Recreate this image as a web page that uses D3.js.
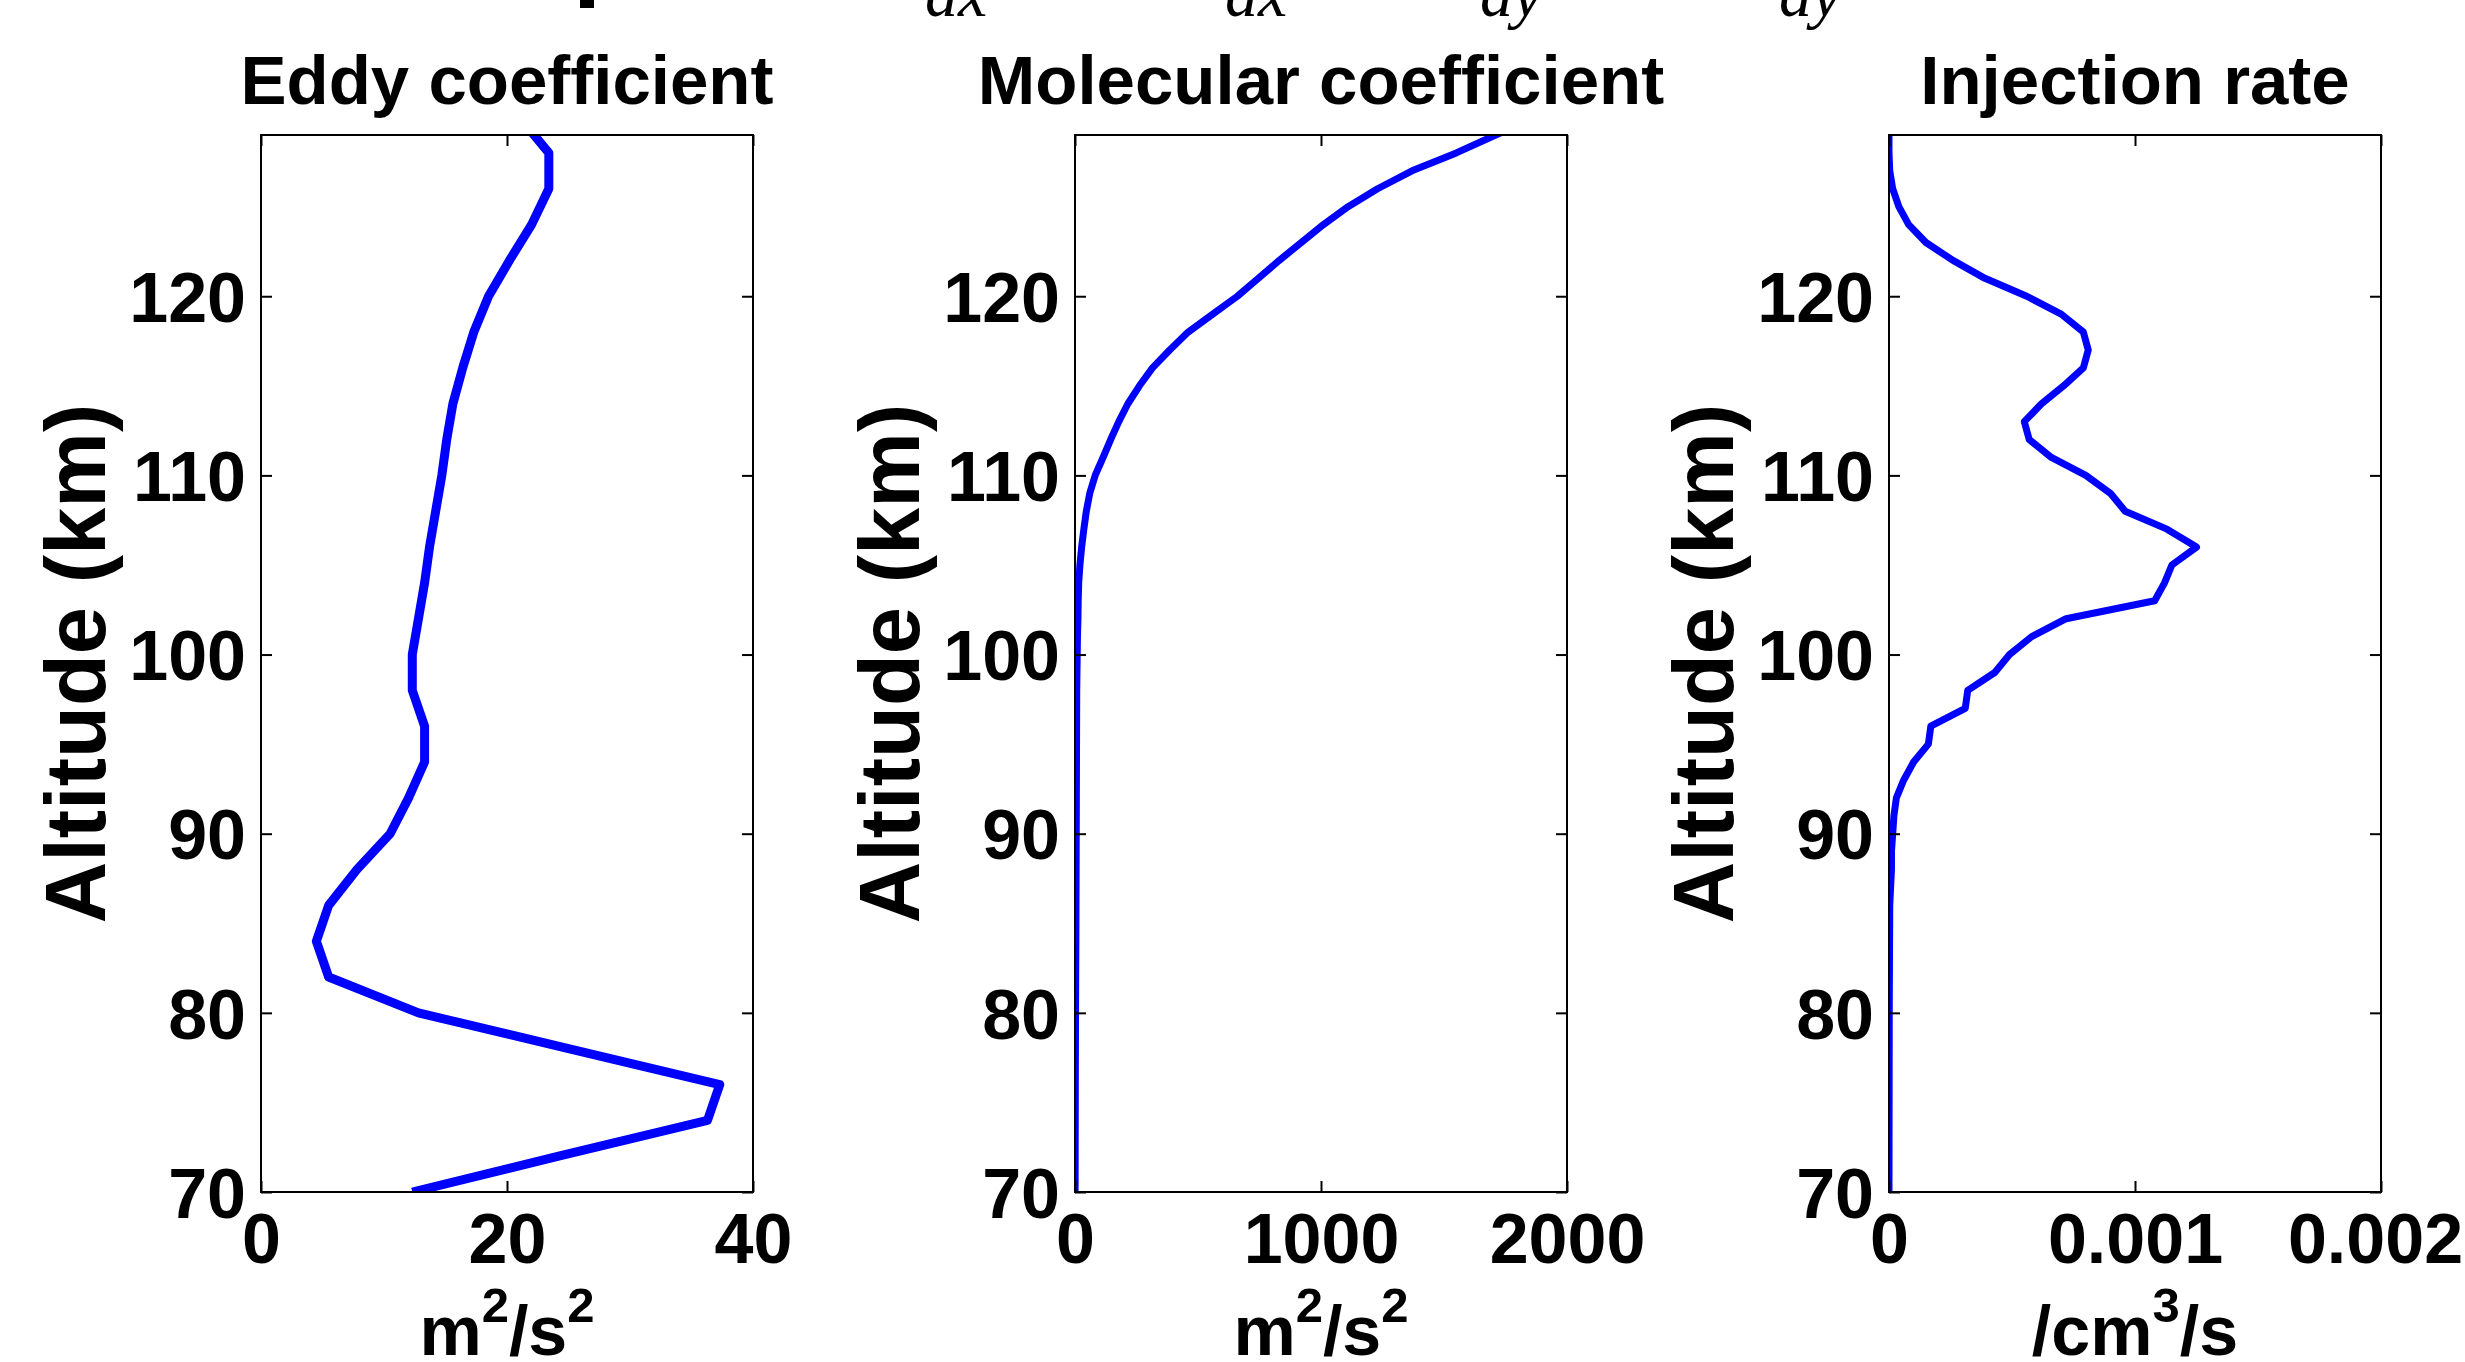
<!DOCTYPE html>
<html>
<head>
<meta charset="utf-8">
<script src="https://cdn.jsdelivr.net/npm/d3@7"></script>
<style>
  html, body { margin: 0; padding: 0; background: #fff; }
  svg { display: block; }
</style>
</head>
<body>
<div id="chart"></div>
<script>
// Altitude profiles: eddy / molecular diffusion coefficients and injection rate
const altitudeTicks = [70, 80, 90, 100, 110, 120];

const eddyAltitude = [70, 72, 74, 76, 78, 80, 82, 84, 86, 88, 90, 92, 94, 96, 98, 100,
  102, 104, 106, 108, 110, 112, 114, 116, 118, 120, 122, 124, 126, 128, 130];
const eddyValues = [12.3, 24.2, 36.3, 37.3, 25, 12.8, 5.5, 4.5, 5.5, 7.8, 10.5, 12, 13.3, 13.3, 12.3, 12.3,
  12.8, 13.3, 13.7, 14.2, 14.7, 15.1, 15.6, 16.4, 17.3, 18.5, 20.2, 22, 23.4, 23.4, 21];

const molecularAltitude = [70, 72, 74, 76, 78, 80, 82, 84, 86, 88, 90, 92, 94, 96, 98, 99, 100,
  101, 102, 103, 104, 105, 106, 107, 108, 109, 110, 111, 112, 113, 114, 115, 116, 117, 118, 119,
  120, 121, 122, 123, 124, 125, 126, 127, 128, 129, 130];
const molecularValues = [0.5, 0.7, 1, 1.3, 1.7, 2.2, 2.8, 3.5, 4, 4.5, 5, 5.5, 6, 6.5, 7, 8, 9,
  10, 12, 13, 15, 20, 27, 36, 46, 60, 82, 114, 145, 178, 215, 262, 315, 385, 460, 560,
  660, 745, 830, 920, 1010, 1110, 1230, 1370, 1550, 1710, 1880];

const injectionAltitude = [70, 80, 86, 88, 89, 90, 91, 92, 93, 94, 95, 96, 97, 98, 99, 100,
  101, 102, 103, 104, 105, 106, 107, 108, 109, 110, 111, 112, 113, 114, 115, 116, 117, 118, 119,
  120, 121, 122, 123, 124, 125, 126, 127, 128, 129];
const injectionValues = [0, 0.000001, 0.000003, 0.00001, 0.00001, 0.000015, 0.00002, 0.00003, 0.00006,
  0.0001, 0.00016, 0.00017, 0.00031, 0.00032, 0.00043, 0.00049, 0.00058, 0.00072, 0.00108, 0.00112,
  0.00115, 0.00125, 0.00113, 0.00096, 0.0009, 0.0008, 0.00066, 0.00057, 0.00055, 0.00062, 0.00071,
  0.00079, 0.00081, 0.00079, 0.0007, 0.00056, 0.00039, 0.00026, 0.00015, 0.00008, 0.00004,
  0.000015, 0.000003, 0, 0];

const eddyTicks = [0, 20, 40];
const molecularTicks = [0, 1000, 2000];
const injectionTicks = [0, 0.001, 0.002];

const panelTitles = ['Eddy coefficient', 'Molecular coefficient', 'Injection rate'];
// unit label pieces: [text, isSuperscript]
const unitLabels = [
  [['m', false], ['2', true], ['/s', false], ['2', true]],
  [['m', false], ['2', true], ['/s', false], ['2', true]],
  [['/cm', false], ['3', true], ['/s', false]]
];
const equationPieces = ['dx', 'dx', 'dy', 'dy'];

(function () {
  'use strict';

  const W = 2465, H = 1362;
  const PLOT_LEFT = [261, 1075, 1889];
  const PLOT_W = 492;
  const PLOT_TOP = 135, PLOT_BOTTOM = 1192;
  const TICK = 11;
  const FONT = '"Liberation Sans", Arial, Helvetica, sans-serif';
  const BLUE = '#0000ff';

  const panels = [
    { alt: eddyAltitude, val: eddyValues, domain: [0, 40], ticks: eddyTicks, lw: 9 },
    { alt: molecularAltitude, val: molecularValues, domain: [0, 2000], ticks: molecularTicks, lw: 7 },
    { alt: injectionAltitude, val: injectionValues, domain: [0, 0.002], ticks: injectionTicks, lw: 7 }
  ];

  const svg = d3.select('#chart').append('svg')
    .attr('width', W)
    .attr('height', H)
    .attr('viewBox', [0, 0, W, H]);

  svg.append('rect').attr('width', W).attr('height', H).attr('fill', '#fff');

  const y = d3.scaleLinear().domain([70, 129]).range([PLOT_BOTTOM, PLOT_TOP]);

  // cut-off equation fragment at the very top (only the lower part is in frame)
  const eqX = [925, 1225, 1480, 1779];
  svg.append('rect').attr('x', 580).attr('y', 0).attr('width', 14).attr('height', 8).attr('fill', '#000');
  svg.selectAll('.eq')
    .data(equationPieces)
    .join('text')
    .attr('class', 'eq')
    .attr('x', (d, i) => eqX[i])
    .attr('y', 16)
    .attr('font-family', '"Liberation Serif", "Times New Roman", serif')
    .attr('font-style', 'italic')
    .attr('font-size', 66)
    .attr('fill', '#000')
    .text(d => d);

  panels.forEach((p, i) => drawPanel(p, i));

  function drawPanel(p, i) {
    const left = PLOT_LEFT[i];
    const x = d3.scaleLinear().domain(p.domain).range([left, left + PLOT_W]);
    const g = svg.append('g').attr('class', 'panel');

    const clipId = 'clip' + i;
    svg.append('clipPath').attr('id', clipId)
      .append('rect')
      .attr('x', left).attr('y', PLOT_TOP)
      .attr('width', PLOT_W).attr('height', PLOT_BOTTOM - PLOT_TOP);

    // data line
    const pts = p.alt.map((a, k) => [p.val[k], a]);
    const line = d3.line().x(d => x(d[0])).y(d => y(d[1]));
    g.append('path')
      .attr('d', line(pts))
      .attr('clip-path', 'url(#' + clipId + ')')
      .attr('fill', 'none')
      .attr('stroke', BLUE)
      .attr('stroke-width', p.lw)
      .attr('stroke-linejoin', 'round');

    const fmt = d => String(d);

    // axes with inward ticks on all four sides
    const bottom = g.append('g')
      .attr('transform', 'translate(0,' + PLOT_BOTTOM + ')')
      .call(d3.axisBottom(x).tickValues(p.ticks).tickFormat(fmt).tickSizeInner(-TICK).tickSizeOuter(0).tickPadding(21));
    const top = g.append('g')
      .attr('transform', 'translate(0,' + PLOT_TOP + ')')
      .call(d3.axisTop(x).tickValues(p.ticks).tickFormat('').tickSizeInner(-TICK).tickSizeOuter(0));
    const leftAx = g.append('g')
      .attr('transform', 'translate(' + left + ',0)')
      .call(d3.axisLeft(y).tickValues(altitudeTicks).tickFormat(fmt).tickSizeInner(-TICK).tickSizeOuter(0).tickPadding(15));
    const rightAx = g.append('g')
      .attr('transform', 'translate(' + (left + PLOT_W) + ',0)')
      .call(d3.axisRight(y).tickValues(altitudeTicks).tickFormat('').tickSizeInner(-TICK).tickSizeOuter(0));

    [bottom, top, leftAx, rightAx].forEach(a => {
      a.select('.domain').remove();
      a.selectAll('line').attr('stroke', '#000').attr('stroke-width', 2);
      a.selectAll('text')
        .attr('font-family', FONT)
        .attr('font-weight', 'bold')
        .attr('font-size', 70)
        .attr('fill', '#000');
    });
    leftAx.selectAll('text').attr('dy', '0.36em');
    // last label of the right panel sits at the page edge
    if (i === 2) {
      bottom.selectAll('text').filter(d => d === p.ticks[p.ticks.length - 1]).attr('dx', -6);
    }

    // frame
    g.append('rect')
      .attr('x', left).attr('y', PLOT_TOP)
      .attr('width', PLOT_W).attr('height', PLOT_BOTTOM - PLOT_TOP)
      .attr('fill', 'none')
      .attr('stroke', '#000')
      .attr('stroke-width', 2);

    // title
    g.append('text')
      .attr('x', left + PLOT_W / 2)
      .attr('y', 104)
      .attr('text-anchor', 'middle')
      .attr('font-family', FONT)
      .attr('font-weight', 'bold')
      .attr('font-size', 69)
      .attr('fill', '#000')
      .text(panelTitles[i]);

    // y label
    g.append('text')
      .attr('transform', 'translate(' + (left - 156) + ',' + ((PLOT_TOP + PLOT_BOTTOM) / 2) + ') rotate(-90)')
      .attr('text-anchor', 'middle')
      .attr('font-family', FONT)
      .attr('font-weight', 'bold')
      .attr('font-size', 85)
      .attr('fill', '#000')
      .text('Altitude (km)');

    // x label with superscripts
    const xl = g.append('text')
      .attr('x', left + PLOT_W / 2)
      .attr('y', 1355)
      .attr('text-anchor', 'middle')
      .attr('font-family', FONT)
      .attr('font-weight', 'bold')
      .attr('font-size', 70)
      .attr('fill', '#000');
    let raised = false;
    unitLabels[i].forEach(([txt, sup]) => {
      const t = xl.append('tspan').text(txt);
      if (sup && !raised) { t.attr('dy', -33).attr('font-size', 49); raised = true; }
      else if (sup) { t.attr('font-size', 49); }
      else if (raised) { t.attr('dy', 33); raised = false; }
    });
  }
})();
</script>
</body>
</html>
